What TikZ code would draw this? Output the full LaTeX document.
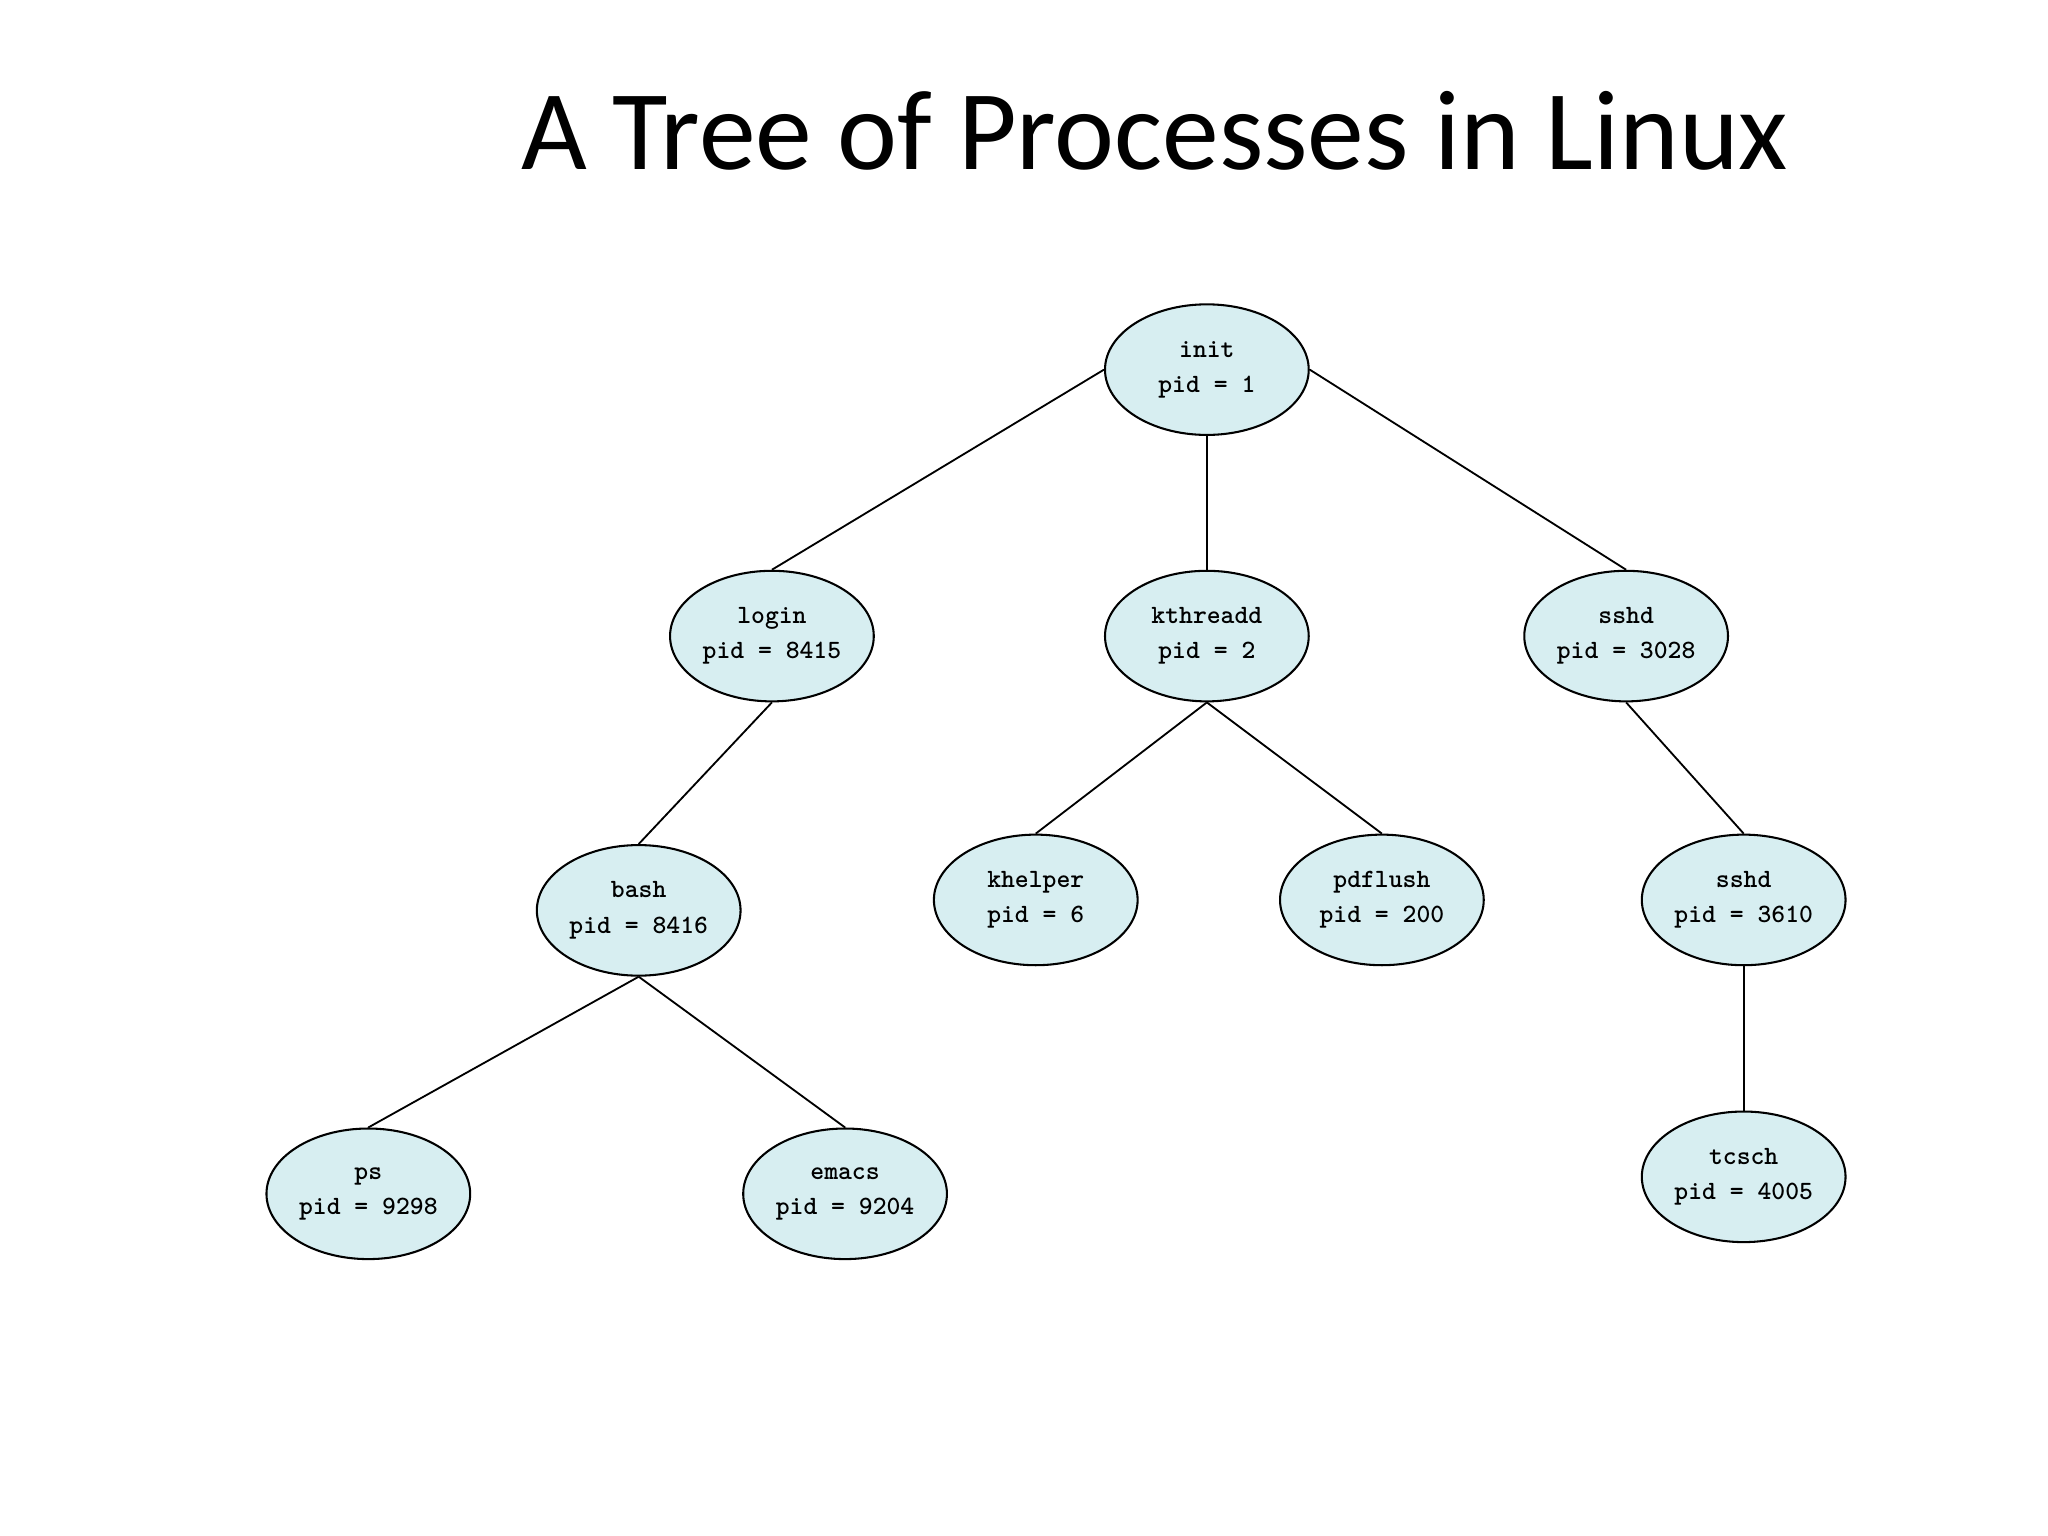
\documentclass[tikz,border=0pt]{standalone}
\usepackage{fontspec}
\newfontfamily\titlefont{Carlito}
\usetikzlibrary{shapes.geometric}
\definecolor{nodefill}{RGB}{215,238,241}
\begin{document}
\begin{tikzpicture}[x=0.02cm,y=-0.02cm,
  proc/.style={ellipse,draw=black,fill=nodefill,line width=0.9pt,minimum width=3.12cm,minimum height=2.0cm,inner sep=0pt,align=center,font=\ttfamily\bfseries\fontsize{11.5}{15.4}\selectfont},
  edge/.style={line width=0.8pt}]
\useasboundingbox (0,0) rectangle (1568,1176);
\node[font=\titlefont\fontsize{49.5}{55}\selectfont] (title) at (884,100) {A Tree of Processes in Linux};
\node[proc] (init) at (924,283) {init\\pid = 1};
\node[proc] (login) at (591,487) {login\\pid = 8415};
\node[proc] (kthreadd) at (924,487) {kthreadd\\pid = 2};
\node[proc] (sshd) at (1245,487) {sshd\\pid = 3028};
\node[proc] (bash) at (489,697) {bash\\pid = 8416};
\node[proc] (khelper) at (793,689) {khelper\\pid = 6};
\node[proc] (pdflush) at (1058,689) {pdflush\\pid = 200};
\node[proc] (sshdb) at (1335,689) {sshd\\pid = 3610};
\node[proc] (ps) at (282,914) {ps\\pid = 9298};
\node[proc] (emacs) at (647,914) {emacs\\pid = 9204};
\node[proc] (tcsch) at (1335,901) {tcsch\\pid = 4005};
\draw[edge] (init.west) -- (login.north);
\draw[edge] (init.south) -- (kthreadd.north);
\draw[edge] (init.east) -- (sshd.north);
\draw[edge] (login.south) -- (bash.north);
\draw[edge] (kthreadd.south) -- (khelper.north);
\draw[edge] (kthreadd.south) -- (pdflush.north);
\draw[edge] (sshd.south) -- (sshdb.north);
\draw[edge] (bash.south) -- (ps.north);
\draw[edge] (bash.south) -- (emacs.north);
\draw[edge] (sshdb.south) -- (tcsch.north);
\end{tikzpicture}
\end{document}
